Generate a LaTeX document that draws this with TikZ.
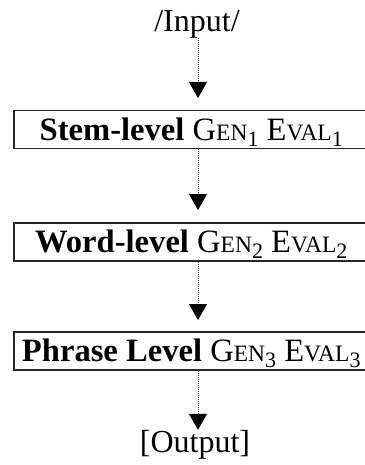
\documentclass[tikz,border=0pt]{standalone}
\usepackage{fontspec}
\setmainfont{Liberation Serif}
\usetikzlibrary{arrows.meta}
\newcommand{\scp}[1]{{\fontsize{23.5}{23.5}\selectfont #1}}
\newcommand{\subn}[1]{\raisebox{-0.18em}{\fontsize{22}{22}\selectfont #1}}
\begin{document}
\begin{tikzpicture}[x=1pt,y=-1pt,
  every node/.style={font=\fontsize{32}{38}\selectfont, inner sep=0pt},
  levelbox/.style={draw=black!85, line width=1.5pt, minimum width=359pt, minimum height=38pt,
    text height=26pt, text depth=4pt, anchor=north west, font=\fontsize{32.6}{38}\selectfont},
  termtext/.style={text height=22pt, text depth=6pt},
  flow/.style={draw=black!75, line width=1pt, dash pattern=on 1pt off 1pt,
    -{Triangle[width=18pt,length=16pt,color=black]}}
]
\useasboundingbox (0,0) rectangle (364,465);
\coordinate (ax) at (198,0);
\node[termtext, anchor=base] (in) at (197,32) {/Input/};
\node[levelbox] (b1) at (13,110) {\hspace*{-4pt}\textbf{Stem-level} G\scp{EN}\subn{1} E\scp{VAL}\subn{1}};
\node[levelbox] (b2) at (13,222) {\hspace*{-4pt}\textbf{Word-level} G\scp{EN}\subn{2} E\scp{VAL}\subn{2}};
\node[levelbox] (b3) at (13,331) {\hspace*{-4pt}\textbf{Phrase Level} G\scp{EN}\subn{3} E\scp{VAL}\subn{3}};
\node[termtext, anchor=base] (out) at (195,452) {[Output]};
\draw[flow, shorten >=12pt] (in.south -| ax) -- (b1.north -| ax);
\draw[flow, shorten >=12pt] (b1.south -| ax) -- (b2.north -| ax);
\draw[flow, shorten >=11pt] (b2.south -| ax) -- (b3.north -| ax);
\draw[flow] (b3.south -| ax) -- (out.north -| ax);
\end{tikzpicture}
\end{document}
